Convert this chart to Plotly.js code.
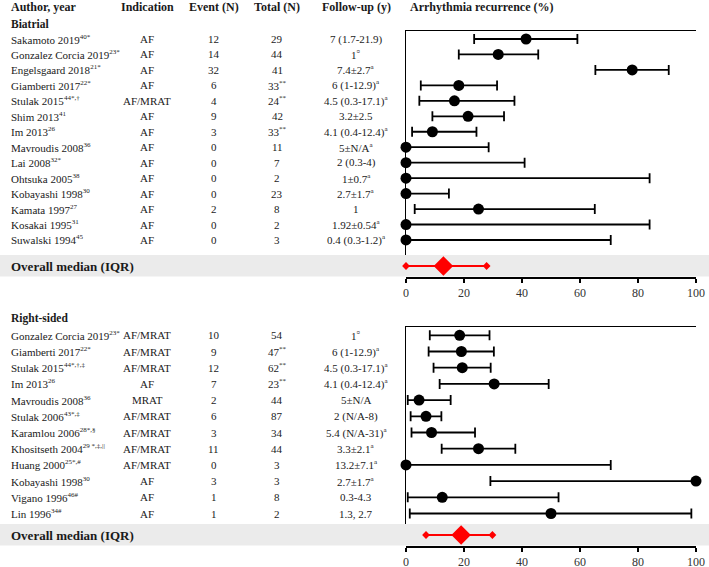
<!DOCTYPE html>
<html>
<head>
<meta charset="utf-8">
<script src="https://cdn.plot.ly/plotly-3.0.1.min.js"></script>
<style>html,body{margin:0;padding:0;background:#fff;}#chart{width:709px;height:567px;}</style>
</head>
<body>
<div id="chart"></div>
<script>
// ---------- Data ----------
const headers = ["Author, year", "Indication", "Event (N)", "Total (N)", "Follow-up (y)", "Arrhythmia recurrence (%)"];
const groupNames = ["Biatrial", "Right-sided"];
const medianLabel = "Overall median (IQR)";

// Biatrial
const authorsB = ["Sakamoto 2019<sup>40*</sup>", "Gonzalez Corcia 2019<sup>23*</sup>", "Engelsgaard 2018<sup>21*</sup>",
  "Giamberti 2017<sup>22*</sup>", "Stulak 2015<sup>44*,†</sup>", "Shim 2013<sup>41</sup>", "Im 2013<sup>26</sup>",
  "Mavroudis 2008<sup>36</sup>", "Lai 2008<sup>32*</sup>", "Ohtsuka 2005<sup>38</sup>", "Kobayashi 1998<sup>30</sup>",
  "Kamata 1997<sup>27</sup>", "Kosakai 1995<sup>31</sup>", "Suwalski 1994<sup>45</sup>"];
const indicationB = ["AF", "AF", "AF", "AF", "AF/MRAT", "AF", "AF", "AF", "AF", "AF", "AF", "AF", "AF", "AF"];
const eventsB = ["12", "14", "32", "6", "4", "9", "3", "0", "0", "0", "0", "2", "0", "0"];
const totalB = ["29", "44", "41", "33<sup>**</sup>", "24<sup>**</sup>", "42", "33<sup>**</sup>", "11", "7", "2", "23", "8", "2", "3"];
const followB = ["7 (1.7-21.9)", "1<sup>¤</sup>", "7.4±2.7<sup>a</sup>", "6 (1-12.9)<sup>a</sup>", "4.5 (0.3-17.1)<sup>a</sup>",
  "3.2±2.5", "4.1 (0.4-12.4)<sup>a</sup>", "5±N/A<sup>a</sup>", "2 (0.3-4)", "1±0.7<sup>a</sup>", "2.7±1.7<sup>a</sup>",
  "1", "1.92±0.54<sup>a</sup>", "0.4 (0.3-1.2)<sup>a</sup>"];
const rateB = [41.4, 31.8, 78.0, 18.2, 16.7, 21.4, 9.1, 0, 0, 0, 0, 25.0, 0, 0];
const lowB  = [23.5, 18.2, 65.3, 5.1, 4.6, 9.1, 2.1, 0, 0, 0, 0, 3.0, 0, 0];
const highB = [59.1, 45.6, 90.6, 31.4, 37.4, 33.8, 24.3, 28.5, 40.9, 84.0, 14.8, 65.1, 84.0, 70.6];
const medianB = [12.9], q1B = [0], q3B = [27.8];

// Right-sided
const authorsR = ["Gonzalez Corcia 2019<sup>23*</sup>", "Giamberti 2017<sup>22*</sup>", "Stulak 2015<sup>44*,†,‡</sup>",
  "Im 2013<sup>26</sup>", "Mavroudis 2008<sup>36</sup>", "Stulak 2006<sup>43*,‡</sup>", "Karamlou 2006<sup>28*,§</sup>",
  "Khositseth 2004<sup>29 *,‡,||</sup>", "Huang 2000<sup>25*,#</sup>", "Kobayashi 1998<sup>30</sup>",
  "Vigano 1996<sup>46#</sup>", "Lin 1996<sup>34#</sup>"];
const indicationR = ["AF/MRAT", "AF/MRAT", "AF/MRAT", "AF", "MRAT", "AF/MRAT", "AF/MRAT", "AF/MRAT", "AF/MRAT", "AF", "AF", "AF"];
const eventsR = ["10", "9", "12", "7", "2", "6", "3", "11", "0", "3", "1", "1"];
const totalR = ["54", "47<sup>**</sup>", "62<sup>**</sup>", "23<sup>**</sup>", "44", "87", "34", "44", "3", "3", "8", "2"];
const followR = ["1<sup>¤</sup>", "6 (1-12.9)<sup>a</sup>", "4.5 (0.3-17.1)<sup>a</sup>", "4.1 (0.4-12.4)<sup>a</sup>",
  "5±N/A", "2 (N/A-8)", "5.4 (N/A-31)<sup>a</sup>", "3.3±2.1<sup>a</sup>", "13.2±7.1<sup>a</sup>",
  "2.7±1.7<sup>a</sup>", "0.3-4.3", "1.3, 2.7"];
const rateR = [18.5, 19.1, 19.4, 30.4, 4.5, 6.9, 8.8, 25.0, 0, 100, 12.5, 50.0];
const lowR  = [8.2, 7.8, 9.5, 11.6, 0.6, 1.6, 1.9, 12.3, 0, 29.1, 0.6, 1.3];
const highR = [28.8, 30.3, 29.2, 49.2, 15.4, 12.2, 23.8, 37.7, 70.6, 100, 52.6, 98.4];
const medianR = [19.0], q1R = [6.9], q3R = [29.8];

const xTicks = [0, 20, 40, 60, 80, 100];

// ---------- Layout helpers ----------
const W = 709, H = 567;
const py = p => 1 - p / H;
const px = p => p / W;
const FONT = "Liberation Serif, Times New Roman, serif";
const TXT = "#1a1a1a";
const xDom = [px(406), px(696)];
const small = s => s.replace(/<sup>(.*?)<\/sup>/g, '<sup><span style="font-size:7px">$1</span></sup>');

const panels = [
  {authors: authorsB, ind: indicationB, ev: eventsB, tot: totalB, fu: followB, rate: rateB, low: lowB, high: highB,
   med: medianB, q1: q1B, q3: q3B, rowsTop: 31, band: [255, 277], firstRow: 39, step: 15.46,
   xa: "x", ya: "y", xm: "x2", ym: "y2", label: groupNames[0], labelY: 24},
  {authors: authorsR, ind: indicationR, ev: eventsR, tot: totalR, fu: followR, rate: rateR, low: lowR, high: highR,
   med: medianR, q1: q1R, q3: q3R, rowsTop: 327, band: [524, 546], firstRow: 335.3, step: 16.2,
   xa: "x3", ya: "y3", xm: "x4", ym: "y4", label: groupNames[1], labelY: 318}
];

const traces = [];
const annotations = [];
const shapes = [];
const layout = {
  width: W, height: H,
  margin: {l: 0, r: 0, t: 0, b: 0},
  paper_bgcolor: "#ffffff",
  plot_bgcolor: "rgba(0,0,0,0)",
  showlegend: false,
  font: {family: FONT, color: TXT, size: 11}
};

// headers
const headerX = [9, 147, 214, 277, 356, 408];
const headerAnchor = ["left", "center", "center", "center", "center", "left"];
headers.forEach((h, i) => {
  annotations.push({text: "<b>" + h + "</b>", xref: "paper", yref: "paper", x: px(headerX[i]), y: py(7),
    xanchor: headerAnchor[i], yanchor: "middle", showarrow: false, font: {size: 12, family: FONT, color: TXT}});
});

const colX = [147, 214, 277, 356];

panels.forEach((p, k) => {
  const n = p.authors.length;
  const rows = p.authors.map((_, i) => i);
  const bandTop = p.band[0], bandBot = p.band[1];
  const yTopVal = (p.rowsTop - p.firstRow) / p.step;
  const yBotVal = (bandTop - p.firstRow) / p.step;
  const sfx = k === 0 ? "" : "3";
  const sfxm = k === 0 ? "2" : "4";

  layout["xaxis" + sfx] = {domain: xDom, range: [0, 100], anchor: p.ya, side: "top", showline: true,
    linecolor: "#000", linewidth: 1.5, ticks: "", showticklabels: false, showgrid: false, zeroline: false, fixedrange: true};
  layout["yaxis" + sfx] = {domain: [py(bandTop), py(p.rowsTop)], range: [yBotVal, yTopVal],
    anchor: p.xa, showline: true, linecolor: "#000", linewidth: 1.5, ticks: "", showticklabels: false,
    showgrid: false, zeroline: false, fixedrange: true};
  layout["xaxis" + sfxm] = {domain: xDom, range: [0, 100], anchor: p.ym, side: "bottom", showline: true,
    linecolor: "#000", linewidth: 1.5, ticks: "outside", ticklen: 4, tickwidth: 1.5, tickcolor: "#000",
    tickvals: xTicks, ticktext: xTicks.map(String), tickfont: {family: FONT, size: 12, color: "#333"},
    ticklabelstandoff: 0,
    showgrid: false, zeroline: false, fixedrange: true};
  layout["yaxis" + sfxm] = {domain: [py(bandBot), py(bandTop)], range: [-1, 1], anchor: p.xm, visible: false,
    showgrid: false, zeroline: false, fixedrange: true};

  // gray band
  shapes.push({type: "rect", xref: "paper", yref: "paper", x0: 0, x1: 1, y0: py(bandBot - 0.5), y1: py(bandTop),
    fillcolor: "#ebebeb", line: {width: 0}, layer: "below"});

  // study points with CI
  traces.push({
    type: "scatter", mode: "markers", x: p.rate, y: rows, xaxis: p.xa, yaxis: p.ya, cliponaxis: false,
    marker: {symbol: "circle", size: 11, color: "#000"},
    error_x: {type: "data", symmetric: false,
      array: p.high.map((h, i) => h - p.rate[i]),
      arrayminus: p.rate.map((r, i) => r - p.low[i]),
      color: "#000", thickness: 1.8, width: 5},
    hoverinfo: "skip"
  });

  // median IQR
  traces.push({type: "scatter", mode: "lines+markers", x: [p.q1[0], p.q3[0]], y: [0, 0], xaxis: p.xm, yaxis: p.ym,
    cliponaxis: false, line: {color: "#ff0000", width: 2}, marker: {symbol: "diamond", size: 6, color: "#ff0000"},
    hoverinfo: "skip"});
  traces.push({type: "scatter", mode: "markers", x: p.med, y: [0], xaxis: p.xm, yaxis: p.ym, cliponaxis: false,
    marker: {symbol: "diamond", size: 15, color: "#ff0000"}, hoverinfo: "skip"});

  // group label
  annotations.push({text: "<b>" + p.label + "</b>", xref: "paper", yref: "paper", x: px(9), y: py(p.labelY),
    xanchor: "left", yanchor: "middle", showarrow: false, font: {size: 11.5, family: FONT, color: TXT}});
  // overall median label
  annotations.push({text: "<b>" + medianLabel + "</b>", xref: "paper", yref: p.ym, x: px(9), y: 0,
    xanchor: "left", yanchor: "middle", showarrow: false, font: {size: 13, family: FONT, color: TXT}});

  // table rows
  for (let i = 0; i < n; i++) {
    annotations.push({text: small(p.authors[i]), xref: "paper", yref: p.ya, x: px(9), y: i, xanchor: "left",
      yanchor: "middle", showarrow: false, font: {size: 11, family: FONT, color: TXT}});
    const cols = [p.ind[i], p.ev[i], p.tot[i], p.fu[i]];
    cols.forEach((c, j) => {
      annotations.push({text: small(c), xref: "paper", yref: p.ya, x: px(colX[j]), y: i, xanchor: "center",
        yanchor: "middle", showarrow: false, font: {size: 11, family: FONT, color: TXT}});
    });
  }
});

layout.annotations = annotations;
layout.shapes = shapes;

Plotly.newPlot("chart", traces, layout, {displayModeBar: false, staticPlot: true});
</script>
</body>
</html>
